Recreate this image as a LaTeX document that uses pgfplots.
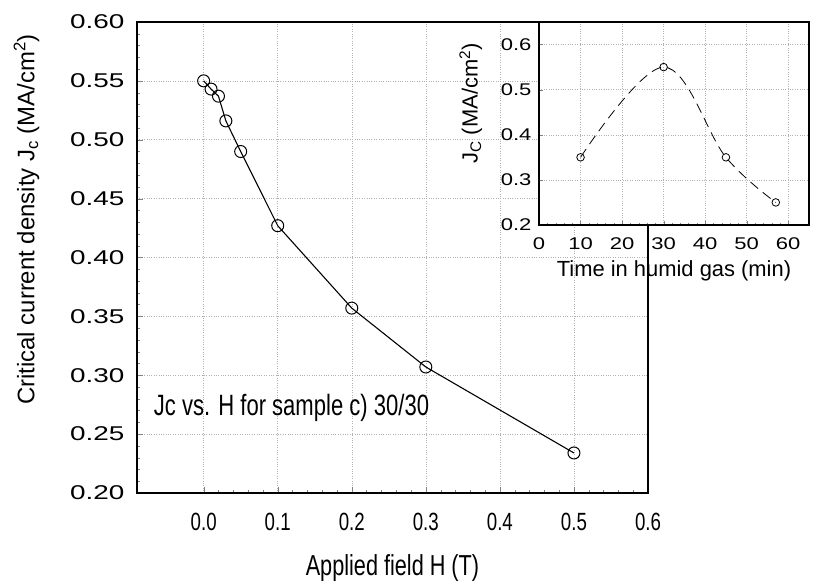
\documentclass[border=0pt]{standalone}
\usepackage{fontspec}
\setmainfont{Liberation Sans}
\newfontfamily\wideFont[FakeStretch=1.4]{Liberation Sans}
\newfontfamily\insetFont[FakeStretch=1.3]{Liberation Sans}
\newfontfamily\narrowFont[FakeStretch=0.75]{Liberation Sans}
\usepackage{pgfplots}
\pgfplotsset{compat=1.18}
\begin{document}
\begin{tikzpicture}[x=1bp,y=1bp]
\useasboundingbox (0,0) rectangle (828,586);
% main axis
\begin{axis}[
    at={(137bp,93bp)}, anchor=south west,
    width=511bp, height=471bp, scale only axis,
    xmin=-0.09, xmax=0.6,
    ymin=0.2, ymax=0.6,
    xtick={0,0.1,...,0.6},
    ytick={0.2,0.25,...,0.6},
    minor x tick num=4,
    minor y tick num=4,
    xtick pos=bottom, ytick pos=left,
    tick align=inside,
    major tick length=6bp, minor tick length=3bp,
    grid=major,
    major grid style={gray!60, dotted, line width=0.5pt},
    axis line style={line width=1.2pt},
    /pgf/number format/assume math mode=true,
    x tick label style={font=\fontsize{25}{27}\narrowFont, /pgf/number format/.cd, fixed, fixed zerofill, precision=1},
    y tick label style={font=\fontsize{20}{22}\wideFont, /pgf/number format/.cd, fixed, fixed zerofill, precision=2},
    xticklabel shift=17bp,
    yticklabel shift=9bp,
    xlabel={Applied field H (T)},
    xlabel style={font=\fontsize{29}{31}\narrowFont, yshift=-17bp},
    ylabel={Critical current density J\textsubscript{c} (MA/cm\textsuperscript{2})},
    ylabel style={font=\fontsize{24}{26}\selectfont, yshift=24bp, xshift=38bp},
]
\addplot[black, line width=1.1pt, mark=o, mark size=6bp, mark options={fill=white, line width=1pt}] coordinates {
    (0.0, 0.550) (0.01, 0.543) (0.02, 0.537) (0.03, 0.516) (0.05, 0.490)
    (0.1, 0.427) (0.2, 0.357) (0.3, 0.307) (0.5, 0.234)
};
\node[anchor=west, font=\fontsize{29.5}{31}\narrowFont] at (axis cs:-0.072,0.272) {Jc vs. H for sample c) 30/30};
\end{axis}
% inset axis
\begin{axis}[
    at={(539bp,361bp)}, anchor=south west,
    width=270bp, height=203bp, scale only axis,
    xmin=0, xmax=65,
    ymin=0.2, ymax=0.65,
    xtick={0,10,...,60},
    ytick={0.2,0.3,...,0.6},
    xtick pos=bottom, ytick pos=left,
    tick align=inside,
    minor x tick num=4,
    major tick length=4bp, minor tick length=2bp,
    grid=major,
    major grid style={gray!60, dotted, line width=0.5pt},
    axis background/.style={fill=white},
    axis line style={line width=1.1pt},
    /pgf/number format/assume math mode=true,
    x tick label style={font=\fontsize{17}{19}\insetFont},
    y tick label style={font=\fontsize{17}{19}\insetFont, /pgf/number format/.cd, fixed, fixed zerofill, precision=1},
    xticklabel shift=9bp,
    yticklabel shift=4bp,
    xlabel={Time in humid gas (min)},
    xlabel style={font=\fontsize{22}{24}\selectfont, yshift=-4bp},
    ylabel={J\textsubscript{C} (MA/cm\textsuperscript{2})},
    ylabel style={font=\fontsize{22}{24}\selectfont, yshift=12bp, xshift=20bp},
]
\addplot[black, line width=0.8pt, dashed, dash pattern=on 10bp off 6bp, smooth, tension=0.6, mark=o, mark size=3.8bp, mark options={solid, fill=white, line width=0.8pt}] coordinates {
    (10, 0.35) (30, 0.55) (45, 0.35) (57, 0.25)
};
\end{axis}
\end{tikzpicture}
\end{document}
